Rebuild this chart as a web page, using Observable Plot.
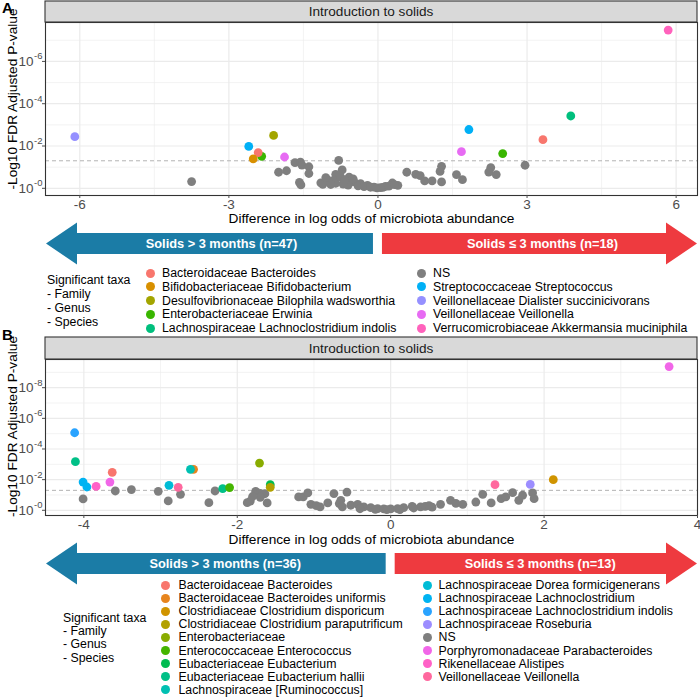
<!DOCTYPE html>
<html><head><meta charset="utf-8">
<script src="https://cdn.jsdelivr.net/npm/d3@7"></script>
<script src="https://cdn.jsdelivr.net/npm/@observablehq/plot@0.6"></script>
<style>
body{margin:0;background:#fff;font-family:"Liberation Sans",Arial,Helvetica,sans-serif;}
#fig{position:relative;width:700px;height:700px;overflow:hidden;background:#fff;}
.abs{position:absolute;white-space:nowrap;}
.plab{font-weight:bold;font-size:15px;line-height:15px;color:#000;}
.lt{font-size:12.3px;line-height:12px;height:12px;color:#000;}
.dot{width:9px;height:9px;border-radius:50%;}
</style></head><body><div id="fig"></div>
<script>
// ---------- data ----------
const stripLabel = "Introduction to solids";
const xLabel = "Difference in log odds of microbiota abundance";
const yLabel = "-Log10 FDR Adjusted P-value";
const fdrThreshold = [1.30103];
const legendTitle = ["Significant taxa", "- Family", "- Genus", "- Species"];

// Panel A
const legendA = ["Bacteroidaceae Bacteroides","Bifidobacteriaceae Bifidobacterium","Desulfovibrionaceae Bilophila wadsworthia","Enterobacteriaceae Erwinia","Lachnospiraceae Lachnoclostridium indolis","NS","Streptococcaceae Streptococcus","Veillonellaceae Dialister succinicivorans","Veillonellaceae Veillonella","Verrucomicrobiaceae Akkermansia muciniphila"];
const colorsA = ["#F8766D","#D89000","#A3A500","#39B600","#00BF7D","#7F7F7F","#00B0F6","#9590FF","#E76BF3","#FF62BC"];
const arrowsA = ["Solids > 3 months (n=47)", "Solids \u2264 3 months (n=18)"];
const xTicksA = [-6, -3, 0, 3, 6];
const xMinorA = [-4.5, -1.5, 1.5, 4.5];
const yTicksA = [0, 2, 4, 6];
const yMinorA = [1, 3, 5, 7];
const xDomainA = [-6.69, 6.43];
const yDomainA = [-0.34, 7.84];
const nsA = [[-3.75,0.32],[-2.00,0.76],[-1.84,0.83],[-1.67,1.21],[-1.56,1.24],[-1.53,1.10],[-1.39,1.02],[-1.39,0.70],[-1.58,0.28],[-1.55,0.16],[-1.15,0.26],[-1.11,0.19],[-1.02,0.41],[-1.05,0.50],[-0.79,1.32],[-0.72,0.87],[-0.85,0.66],[-0.89,0.38],[-0.85,0.24],[-0.75,0.53],[-0.58,0.53],[-0.62,0.30],[-0.48,0.30],[-0.35,0.22],[-0.21,0.14],[-0.08,0.06],[0.05,0.03],[0.15,0.09],[0.29,0.25],[0.40,0.14],[-0.95,0.18],[-0.70,0.20],[-0.40,0.12],[-0.28,0.08],[-0.15,0.05],[-0.02,0.02],[0.10,0.04],[0.22,0.10],[0.33,0.17],[-0.60,0.15],[-0.50,0.45],[-0.67,0.40],[0.58,0.76],[0.76,0.66],[0.85,0.60],[0.94,0.35],[1.09,0.35],[1.28,1.04],[1.25,0.80],[1.28,0.30],[1.58,0.65],[1.70,0.41],[2.27,0.98],[2.23,0.77],[2.38,0.65],[2.96,1.09]];
const sigA = [[-6.10,2.44,"Veillonellaceae Dialister succinicivorans"],[-2.60,1.98,"Streptococcaceae Streptococcus"],[-2.10,2.50,"Desulfovibrionaceae Bilophila wadsworthia"],[-2.34,1.51,"Enterobacteriaceae Erwinia"],[-2.41,1.69,"Bacteroidaceae Bacteroides"],[-2.51,1.39,"Bifidobacteriaceae Bifidobacterium"],[-1.88,1.48,"Veillonellaceae Veillonella"],[1.68,1.73,"Veillonellaceae Veillonella"],[1.83,2.78,"Streptococcaceae Streptococcus"],[2.51,1.64,"Enterobacteriaceae Erwinia"],[3.32,2.30,"Bacteroidaceae Bacteroides"],[3.88,3.42,"Lachnospiraceae Lachnoclostridium indolis"],[5.84,7.48,"Verrucomicrobiaceae Akkermansia muciniphila"]];

// Panel B
const legendB = ["Bacteroidaceae Bacteroides","Bacteroidaceae Bacteroides uniformis","Clostridiaceae Clostridium disporicum","Clostridiaceae Clostridium paraputrificum","Enterobacteriaceae","Enterococcaceae Enterococcus","Eubacteriaceae Eubacterium","Eubacteriaceae Eubacterium hallii","Lachnospiraceae [Ruminococcus]","Lachnospiraceae Dorea formicigenerans","Lachnospiraceae Lachnoclostridium","Lachnospiraceae Lachnoclostridium indolis","Lachnospiraceae Roseburia","NS","Porphyromonadaceae Parabacteroides","Rikenellaceae Alistipes","Veillonellaceae Veillonella"];
const colorsB = ["#F8766D","#E7851E","#D09400","#B2A100","#89AC00","#45B500","#00BC51","#00C087","#00C0B2","#00BCD6","#00B3F2","#29A3FF","#9C8DFF","#7F7F7F","#F166E8","#FF61C7","#FF689E"];
const arrowsB = ["Solids > 3 months (n=36)", "Solids \u2264 3 months (n=13)"];
const xTicksB = [-4, -2, 0, 2, 4];
const xMinorB = [-3, -1, 1, 3];
const yTicksB = [0, 2, 4, 6, 8];
const yMinorB = [1, 3, 5, 7, 9];
const xDomainB = [-4.50, 4.00];
const yDomainB = [-0.34, 9.84];
const nsB = [[-4.01,0.74],[-3.59,1.26],[-3.38,1.35],[-3.03,1.24],[-2.90,0.61],[-2.74,1.04],[-2.37,0.50],[-2.29,1.26],[-1.87,0.50],[-1.83,0.60],[-1.76,1.24],[-1.70,1.10],[-1.64,1.08],[-1.61,0.48],[-1.70,0.85],[-1.80,0.90],[-1.20,0.87],[-1.14,0.87],[-1.08,1.13],[-1.04,0.39],[-0.92,0.22],[-0.82,0.48],[-0.74,1.09],[-0.65,0.65],[-0.57,1.19],[-0.67,0.44],[-0.63,0.22],[-0.52,0.33],[-0.43,0.39],[-0.35,0.22],[-0.26,0.18],[-0.17,0.11],[-0.09,0.09],[0.00,0.09],[0.09,0.11],[0.17,0.18],[0.28,0.26],[0.39,0.22],[0.45,0.26],[0.54,0.20],[0.65,0.39],[0.50,0.30],[0.30,0.15],[0.12,0.05],[-0.05,0.04],[-0.20,0.06],[-0.40,0.10],[-0.97,0.30],[0.78,0.65],[0.85,0.45],[0.94,0.39],[1.11,0.54],[1.20,1.04],[1.31,0.48],[1.44,0.76],[1.50,0.87],[1.59,1.15],[1.67,0.65],[1.72,0.98],[1.85,1.13],[1.87,0.76]];
const sigB = [[-4.12,5.06,"Lachnospiraceae Lachnoclostridium indolis"],[-4.11,3.17,"Eubacteriaceae Eubacterium hallii"],[-4.01,1.84,"Lachnospiraceae Lachnoclostridium"],[-3.96,1.52,"Lachnospiraceae Lachnoclostridium"],[-3.84,1.56,"Rikenellaceae Alistipes"],[-3.66,1.84,"Porphyromonadaceae Parabacteroides"],[-3.63,2.48,"Bacteroidaceae Bacteroides"],[-2.89,1.63,"Lachnospiraceae Dorea formicigenerans"],[-2.77,1.50,"Veillonellaceae Veillonella"],[-2.57,2.67,"Bacteroidaceae Bacteroides uniformis"],[-2.61,2.67,"Lachnospiraceae [Ruminococcus]"],[-2.19,1.41,"Eubacteriaceae Eubacterium hallii"],[-2.10,1.48,"Enterococcaceae Enterococcus"],[-1.71,3.08,"Enterobacteriaceae"],[-1.57,1.67,"Eubacteriaceae Eubacterium"],[-1.57,1.50,"Clostridiaceae Clostridium paraputrificum"],[1.36,1.67,"Veillonellaceae Veillonella"],[1.82,1.69,"Lachnospiraceae Roseburia"],[2.12,2.00,"Clostridiaceae Clostridium disporicum"],[3.63,9.38,"Porphyromonadaceae Parabacteroides"]];

// ---------- drawing ----------
const fig = document.getElementById("fig");
const FONT = "'Liberation Sans', Arial, Helvetica, sans-serif";

function makePanel(cfg) {
  const ns = cfg.ns.map(d => ({x: d[0], y: d[1], taxon: "NS"}));
  const sig = cfg.sig.map(d => ({x: d[0], y: d[1], taxon: d[2]}));
  const plot = Plot.plot({
    width: 700, height: cfg.height,
    marginLeft: 45, marginRight: 3, marginTop: cfg.marginTop, marginBottom: cfg.marginBottom,
    style: {fontFamily: FONT, background: "transparent", overflow: "visible"},
    x: {domain: cfg.xDomain},
    y: {domain: cfg.yDomain},
    color: {domain: cfg.legend, range: cfg.colors},
    marks: [
      Plot.ruleX(cfg.xMinor, {stroke: "#ebebeb", strokeWidth: 0.6}),
      Plot.ruleY(cfg.yMinor, {stroke: "#ebebeb", strokeWidth: 0.6}),
      Plot.ruleX(cfg.xTicks, {stroke: "#ebebeb", strokeWidth: 1.2}),
      Plot.ruleY(cfg.yTicks, {stroke: "#ebebeb", strokeWidth: 1.2}),
      Plot.ruleY(fdrThreshold, {stroke: "#b3b3b3", strokeWidth: 1, strokeDasharray: "4,3"}),
      Plot.dot(ns, {x: "x", y: "y", fill: "taxon", r: 4.4}),
      Plot.dot(sig, {x: "x", y: "y", fill: "taxon", r: 4.4}),
      Plot.frame({stroke: "#333333", strokeWidth: 1.1}),
      Plot.axisX({ticks: cfg.xTicks, tickSize: 3, tickPadding: 0.5, fontSize: 13.5, color: "#4d4d4d", label: null, tickFormat: d => d}),
      Plot.axisY({ticks: cfg.yTicks, tickSize: 3, tickFormat: () => "", label: null, color: "#4d4d4d"}),
      Plot.text(cfg.yTicks, {y: d => d, frameAnchor: "left", text: () => "10", textAnchor: "end", dx: -12, fontSize: 13.5, fill: "#4d4d4d"}),
      Plot.text(cfg.yTicks, {y: d => d, frameAnchor: "left", text: d => "-" + d, textAnchor: "start", dx: -11.5, dy: -5, fontSize: 9.5, fill: "#4d4d4d"}),
      Plot.text([xLabel], {frameAnchor: "bottom", lineAnchor: "middle", dy: cfg.xLabelDy, fontSize: 13.7, fill: "#000"}),
      Plot.text([yLabel], {frameAnchor: "left", textAnchor: "middle", lineAnchor: "middle", dx: -33, dy: cfg.yLabelDy, rotate: -90, fontSize: 13.7, fill: "#000"})
    ]
  });
  plot.style.position = "absolute";
  plot.style.left = "0px";
  plot.style.top = cfg.top + "px";
  fig.appendChild(plot);

  // strip + arrows positioned with the plot's own x scale
  const xs = plot.scale("x");
  const [r0, r1] = xs.range;
  const x0 = xs.apply(0);
  const bottom = cfg.height - cfg.marginBottom;
  const s = d3.select(plot);
  const strip = s.append("g");
  strip.append("rect").attr("x", r0).attr("y", cfg.stripTop).attr("width", r1 - r0)
    .attr("height", cfg.marginTop - cfg.stripTop).attr("fill", "#d9d9d9").attr("stroke", "#333333").attr("stroke-width", 1.1);
  strip.append("text").attr("x", (r0 + r1) / 2).attr("y", (cfg.marginTop + cfg.stripTop) / 2)
    .attr("dy", "0.34em").attr("text-anchor", "middle").attr("font-size", 13.6).attr("fill", "#1a1a1a").text(stripLabel);

  const cy = bottom + 48.5, bh = 10.5, hh = 21, hl = 31;
  const blueTip = r0 + 1, blueEnd = x0 - 4.5, redStart = x0 + 4.5, redTip = r1;
  const blue = [[blueTip, cy], [blueTip + hl, cy - hh], [blueTip + hl, cy - bh], [blueEnd, cy - bh], [blueEnd, cy + bh], [blueTip + hl, cy + bh], [blueTip + hl, cy + hh]];
  const red = [[redTip, cy], [redTip - hl, cy - hh], [redTip - hl, cy - bh], [redStart, cy - bh], [redStart, cy + bh], [redTip - hl, cy + bh], [redTip - hl, cy + hh]];
  const g = s.append("g");
  g.append("polygon").attr("points", blue.map(p => p.join(",")).join(" ")).attr("fill", "#1b7ca6");
  g.append("polygon").attr("points", red.map(p => p.join(",")).join(" ")).attr("fill", "#ee3a3f");
  g.append("text").attr("x", x0 + cfg.textDx[0]).attr("y", cy).attr("dy", "0.34em").attr("text-anchor", "middle")
    .attr("font-size", 12.8).attr("font-weight", "bold").attr("fill", "#fff").text(cfg.arrows[0]);
  g.append("text").attr("x", x0 + cfg.textDx[1]).attr("y", cy).attr("dy", "0.34em").attr("text-anchor", "middle")
    .attr("font-size", 12.8).attr("font-weight", "bold").attr("fill", "#fff").text(cfg.arrows[1]);
}

function makeLegend(cfg) {
  legendTitle.forEach((t, i) => {
    const d = document.createElement("div");
    d.className = "abs lt";
    d.style.left = cfg.titleX + "px";
    d.style.top = (cfg.titleY + i * cfg.titleStep - 6) + "px";
    d.textContent = t;
    fig.appendChild(d);
  });
  cfg.legend.forEach((lab, i) => {
    const col = i < cfg.split ? 0 : 1;
    const row = col === 0 ? i : i - cfg.split;
    const y = cfg.rowY + row * cfg.rowStep;
    const dot = document.createElement("div");
    dot.className = "abs dot";
    dot.style.background = cfg.colors[i];
    dot.style.left = (cfg.dotX[col] - 4.5) + "px";
    dot.style.top = (y - 4.5) + "px";
    fig.appendChild(dot);
    const t = document.createElement("div");
    t.className = "abs lt";
    t.style.left = cfg.textX[col] + "px";
    t.style.top = (y - 6) + "px";
    t.textContent = lab;
    fig.appendChild(t);
  });
}

function addLabel(txt, x, y) {
  const d = document.createElement("div");
  d.className = "abs plab";
  d.style.left = x + "px"; d.style.top = y + "px";
  d.textContent = txt;
  fig.appendChild(d);
}

makePanel({top: 0, height: 270, marginTop: 22, marginBottom: 75, stripTop: 1,
  xDomain: xDomainA, yDomain: yDomainA, xTicks: xTicksA, xMinor: xMinorA, yTicks: yTicksA, yMinor: yMinorA,
  legend: legendA, colors: colorsA, ns: nsA, sig: sigA, arrows: arrowsA, textDx: [-156, 165],
  xLabelDy: 23, yLabelDy: -10});
makePanel({top: 336, height: 254, marginTop: 23, marginBottom: 75, stripTop: 1,
  xDomain: xDomainB, yDomain: yDomainB, xTicks: xTicksB, xMinor: xMinorB, yTicks: yTicksB, yMinor: yMinorB,
  legend: legendB, colors: colorsB, ns: nsB, sig: sigB, arrows: arrowsB, textDx: [-165, 150],
  xLabelDy: 24, yLabelDy: -11});

makeLegend({legend: legendA, colors: colorsA, split: 5, titleX: 47, titleY: 279.5, titleStep: 14,
  rowY: 273, rowStep: 13.8, dotX: [150, 421.5], textX: [162, 433]});
makeLegend({legend: legendB, colors: colorsB, split: 9, titleX: 63, titleY: 617.5, titleStep: 13.4,
  rowY: 585, rowStep: 13.1, dotX: [165, 427], textX: [178.5, 438.5]});

addLabel("A", 2, 0);
addLabel("B", 2, 327);
</script></body></html>
